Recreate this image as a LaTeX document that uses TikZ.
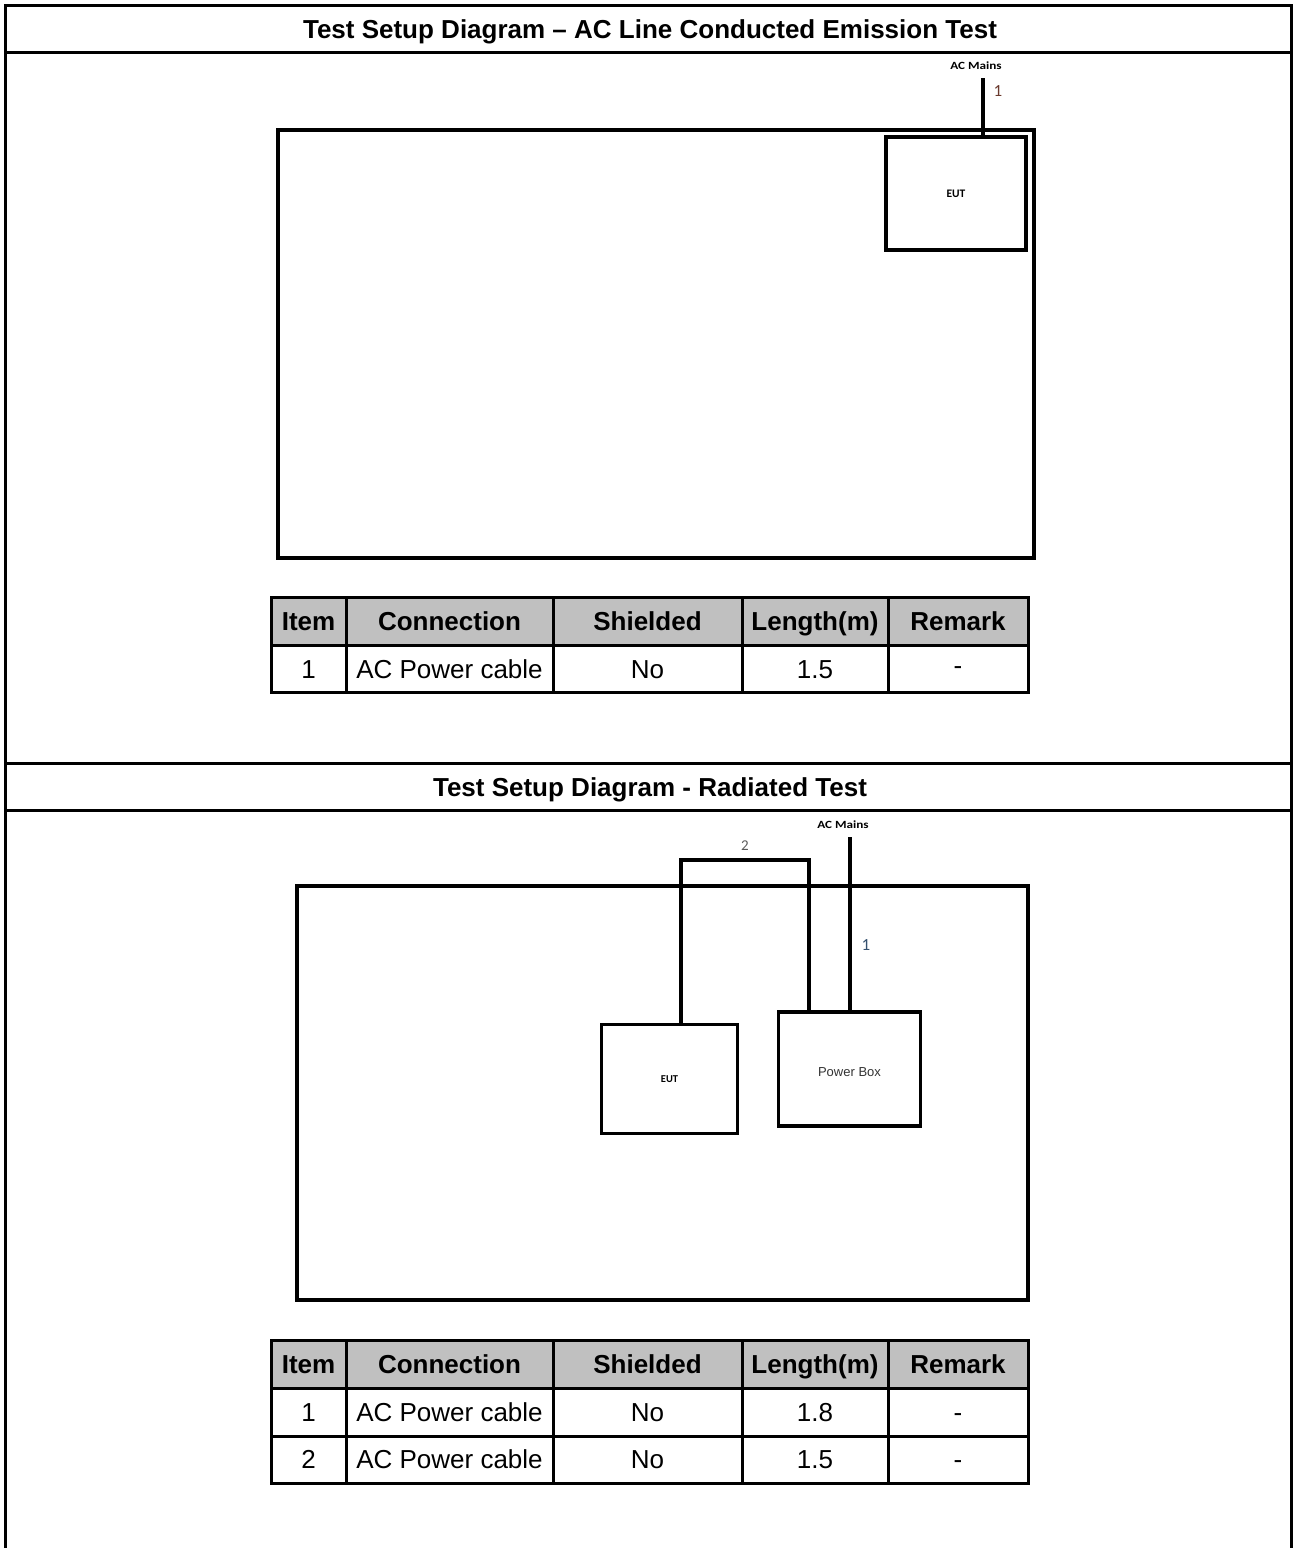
\documentclass[tikz,border=0pt]{standalone}
\usepackage{fontspec}
\setmainfont{Liberation Sans}
\newfontfamily\calfont{Carlito}
\begin{document}
\begin{tikzpicture}[x=1pt,y=-1pt,
  frameline/.style={line width=3pt},
  plane/.style={draw, line width=4pt, inner sep=0pt, minimum width=#1},
  unit/.style={draw, line width=3.5pt, inner sep=0pt},
  cable/.style={line width=3.5pt},
  title/.style={font=\fontsize{26}{30}\selectfont\bfseries, inner sep=0pt, text height=18.6pt, text depth=0pt},
  hcell/.style={draw, line width=3pt, fill=hdrgrey, inner sep=0pt, text height=18.6pt, text depth=0pt, font=\fontsize{26}{30}\selectfont\bfseries},
  dcell/.style={draw, line width=3pt, inner sep=0pt, text height=18.6pt, text depth=0pt, font=\fontsize{26}{30}\selectfont},
  small/.style={inner sep=0pt, font=\calfont\bfseries\fontsize{11}{13}\selectfont},
  num/.style={inner sep=0pt, font=\calfont\fontsize{17}{19}\selectfont}
]
\definecolor{hdrgrey}{HTML}{C0C0C0}
\definecolor{numbrown}{HTML}{6B3A2E}
\definecolor{numblue}{HTML}{34506E}
\definecolor{numgrey}{HTML}{5A5A5A}
\useasboundingbox (0,0) rectangle (1295,1548);
\fill[white] (0,0) rectangle (1295,1548);

% outer frame and dividers
\draw[frameline] (5,1548) -- (5,5) -- (1291,5) -- (1291,1548);
\draw[frameline] (5,52) -- (1291,52);
\draw[frameline] (5,763) -- (1291,763);
\draw[frameline] (5,810) -- (1291,810);

\node[title] (t1) at (650,29) {Test Setup Diagram – AC Line Conducted Emission Test};
\node[title] (t2) at (650,787) {Test Setup Diagram - Radiated Test};

% ---------- Conducted ----------
\node[plane=756pt, minimum height=428pt] (plane1) at (656,344) {};
\node[unit, minimum width=140pt, minimum height=113pt, font=\calfont\bfseries\fontsize{11.5}{13}\selectfont] (eut1) at (956,193.5) {\raisebox{-3.5pt}{EUT}};
\node[small] (acm1) at (976,66) {\scalebox{1.2}[1]{AC Mains}};
\coordinate (ac1top) at (983,78);
\draw[cable] (ac1top) -- (ac1top |- eut1.north);
\node[num, text=numbrown] (n1a) at (998,91) {1};

% table 1
\node[hcell, minimum width=75pt, minimum height=48pt] (a11) at (308.5,621) {Item};
\node[hcell, minimum width=207pt, minimum height=48pt] (a12) at (449.5,621) {Connection};
\node[hcell, minimum width=189pt, minimum height=48pt] (a13) at (647.5,621) {Shielded};
\node[hcell, minimum width=146pt, minimum height=48pt] (a14) at (815,621) {Length(m)};
\node[hcell, minimum width=140pt, minimum height=48pt] (a15) at (958,621) {Remark};
\node[dcell, minimum width=75pt, minimum height=47pt] (a21) at (308.5,669) {1};
\node[dcell, minimum width=207pt, minimum height=47pt] (a22) at (449.5,669) {AC Power cable};
\node[dcell, minimum width=189pt, minimum height=47pt] (a23) at (647.5,669) {No};
\node[dcell, minimum width=146pt, minimum height=47pt] (a24) at (815,669) {1.5};
\node[dcell, minimum width=140pt, minimum height=47pt] (a25) at (958,669) {\raisebox{4pt}{-}};

% ---------- Radiated ----------
\node[plane=731pt, minimum height=414pt] (plane2) at (662.5,1093) {};
\node[unit, minimum width=136pt, minimum height=109pt, font=\calfont\bfseries\fontsize{10.5}{12}\selectfont] (eut2) at (669.5,1079) {\raisebox{-3pt}{EUT}};
\node[unit, minimum width=142pt, minimum height=114pt] (pb) at (849.5,1069) {};
\node[inner sep=0pt, text=black!80, font=\fontsize{13}{15}\selectfont] (pbl) at (849.5,1072) {Power Box};
\node[small] (acm2) at (843,825) {\scalebox{1.2}[1]{AC Mains}};
\coordinate (ac2top) at (850,837);
\draw[cable] (ac2top) -- (ac2top |- pb.north);
\coordinate (c2a) at (681,860);
\coordinate (c2b) at (809,860);
\draw[cable] (c2a |- eut2.north) -- (c2a) -- (c2b) -- (c2b |- pb.north);
\node[num, text=numblue] (n1b) at (866,945) {1};
\node[num, text=numgrey, font=\calfont\fontsize{15}{17}\selectfont] (n2) at (745,846) {2};

% table 2
\node[hcell, minimum width=75pt, minimum height=48pt] (b11) at (308.5,1364) {Item};
\node[hcell, minimum width=207pt, minimum height=48pt] (b12) at (449.5,1364) {Connection};
\node[hcell, minimum width=189pt, minimum height=48pt] (b13) at (647.5,1364) {Shielded};
\node[hcell, minimum width=146pt, minimum height=48pt] (b14) at (815,1364) {Length(m)};
\node[hcell, minimum width=140pt, minimum height=48pt] (b15) at (958,1364) {Remark};
\node[dcell, minimum width=75pt, minimum height=48pt] (b21) at (308.5,1412) {1};
\node[dcell, minimum width=207pt, minimum height=48pt] (b22) at (449.5,1412) {AC Power cable};
\node[dcell, minimum width=189pt, minimum height=48pt] (b23) at (647.5,1412) {No};
\node[dcell, minimum width=146pt, minimum height=48pt] (b24) at (815,1412) {1.8};
\node[dcell, minimum width=140pt, minimum height=48pt] (b25) at (958,1412) {-};
\node[dcell, minimum width=75pt, minimum height=47pt] (b31) at (308.5,1459.5) {2};
\node[dcell, minimum width=207pt, minimum height=47pt] (b32) at (449.5,1459.5) {AC Power cable};
\node[dcell, minimum width=189pt, minimum height=47pt] (b33) at (647.5,1459.5) {No};
\node[dcell, minimum width=146pt, minimum height=47pt] (b34) at (815,1459.5) {1.5};
\node[dcell, minimum width=140pt, minimum height=47pt] (b35) at (958,1459.5) {-};
\end{tikzpicture}
\end{document}
